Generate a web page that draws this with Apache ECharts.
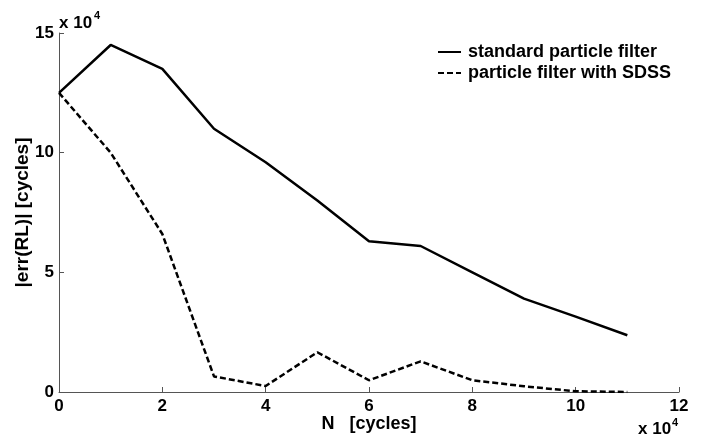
<!DOCTYPE html>
<html><head><meta charset="utf-8">
<script src="https://cdn.jsdelivr.net/npm/echarts@6/dist/echarts.min.js"></script>
<style>html,body{margin:0;padding:0;background:#fff}#c{width:704px;height:437px}</style>
</head><body><div id="c"></div>
<script>
const nCycles = [0,10000,20000,30000,40000,50000,60000,70000,80000,90000,100000,110000];
const standardPF = [125000,145000,135000,110000,96000,80000,63000,61000,50000,39000,31500,23700];
const sdssPF = [125000,100000,66000,6500,2500,16600,4900,12800,4900,2400,300,0];
const xTicks = [0,2,4,6,8,10,12];
const yTicks = [0,5,10,15];
const font = '"Liberation Sans", Arial, sans-serif';
const chart = echarts.init(document.getElementById('c'));
chart.setOption({
  animation:false,
  backgroundColor:'#fff',
  grid:{left:59,right:25,top:33,bottom:45,outerBoundsMode:'none',containLabel:false},
  legend:{
    orient:'vertical', left:437, top:43, itemWidth:23, itemHeight:14, itemGap:3, padding:0,
    itemStyle:{opacity:0},
    textStyle:{fontFamily:font,fontWeight:'bold',fontSize:18,lineHeight:18,color:'#000',padding:[0,0,0,2]},
    data:['standard particle filter','particle filter with SDSS']
  },
  xAxis:{
    type:'value', min:0, max:120000, interval:20000,
    name:'N   [cycles]', nameLocation:'middle', nameGap:23, nameMoveOverlap:false,
    nameTextStyle:{fontFamily:font,fontWeight:'bold',fontSize:18,color:'#000'},
    axisLine:{lineStyle:{color:'#555',width:1}},
    axisTick:{inside:true,length:5,lineStyle:{color:'#555'}},
    axisLabel:{formatter:v=>String(v/1e4),fontFamily:font,fontWeight:'bold',fontSize:17,color:'#000',margin:6},
    splitLine:{show:false}
  },
  yAxis:{
    type:'value', min:0, max:150000, interval:50000,
    name:'|err(RL)| [cycles]', nameLocation:'middle', nameGap:27, nameMoveOverlap:false,
    nameTextStyle:{fontFamily:font,fontWeight:'bold',fontSize:19,color:'#000'},
    axisLine:{show:true,lineStyle:{color:'#555',width:1}},
    axisTick:{show:true,inside:true,length:5,lineStyle:{color:'#555'}},
    axisLabel:{formatter:v=>String(v/1e4),fontFamily:font,fontWeight:'bold',fontSize:17,color:'#000',margin:5},
    splitLine:{show:false}
  },
  graphic:[
    {type:'text',left:59,top:15,style:{text:'x 10',font:'bold 17px '+font,fill:'#000'}},
    {type:'text',left:94,top:10,style:{text:'4',font:'bold 11px '+font,fill:'#000'}},
    {type:'text',left:638,top:421,style:{text:'x 10',font:'bold 17px '+font,fill:'#000'}},
    {type:'text',left:672,top:417,style:{text:'4',font:'bold 11px '+font,fill:'#000'}}
  ],
  series:[
    {name:'standard particle filter',type:'line',symbol:'none',
     data:nCycles.map((x,i)=>[x,standardPF[i]]),
     lineStyle:{color:'#000',width:2.5},itemStyle:{color:'#000'}},
    {name:'particle filter with SDSS',type:'line',symbol:'none',
     data:nCycles.map((x,i)=>[x,sdssPF[i]]),
     lineStyle:{color:'#000',width:2.5,type:[6,3]},itemStyle:{color:'#000'}}
  ]
});
</script></body></html>
